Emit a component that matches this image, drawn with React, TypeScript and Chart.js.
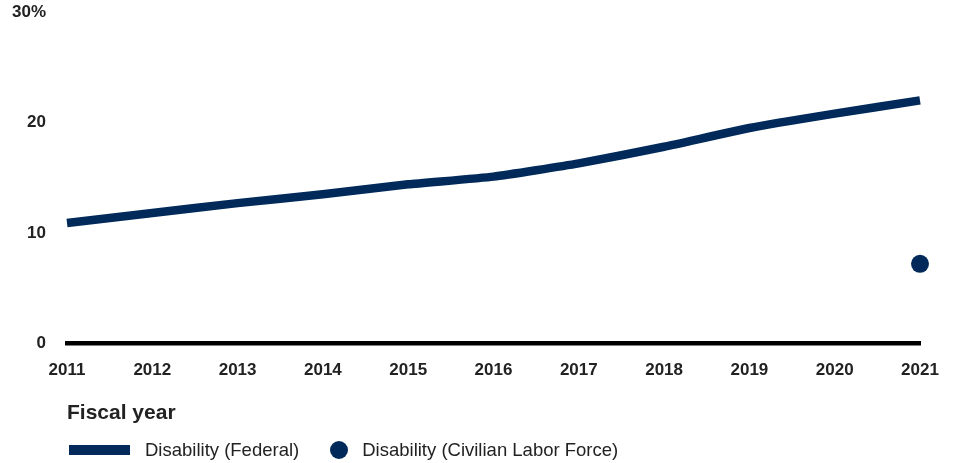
import React, { useEffect, useRef } from "react";
import { Chart, registerables } from "chart.js";

Chart.register(...registerables);

const years = ["2011", "2012", "2013", "2014", "2015", "2016", "2017", "2018", "2019", "2020", "2021"];
const federal = [10.9, 11.8, 12.7, 13.5, 14.4, 15.1, 16.3, 17.8, 19.5, 20.8, 22.0];
const civilian = [null, null, null, null, null, null, null, null, null, null, 7.2];
const yTicks = [0, 10, 20, 30];

const NAVY = "#012a5a";
const TEXT = "#222222";
const FONT = "'Liberation Sans', Arial, sans-serif";

export default function App() {
  const ref = useRef<HTMLCanvasElement | null>(null);

  useEffect(() => {
    if (!ref.current) return;
    const chart = new Chart(ref.current, {
      type: "line",
      data: {
        labels: years,
        datasets: [
          {
            label: "Disability (Federal)",
            data: federal,
            borderColor: NAVY,
            backgroundColor: NAVY,
            borderWidth: 8.5,
            pointRadius: 0,
            tension: 0.15,
            fill: false,
          },
          {
            label: "Disability (Civilian Labor Force)",
            data: civilian as any,
            borderColor: NAVY,
            backgroundColor: NAVY,
            showLine: false,
            pointRadius: 9,
            pointBorderWidth: 0,
          },
        ],
      },
      options: {
        animation: false,
        responsive: false,
        maintainAspectRatio: false,
        layout: { padding: { left: 0, right: 34, top: 12, bottom: 37 } },
        plugins: { legend: { display: false }, tooltip: { enabled: false } },
        scales: {
          x: {
            offset: false,
            afterFit: (s: any) => {
              s.paddingLeft = 0;
              s.paddingRight = 0;
            },
            grid: { display: false, drawTicks: false },
            border: { display: true, color: "#000", width: 4.5 },
            ticks: {
              color: TEXT,
              font: { family: FONT, size: 17, weight: "bold" },
              maxRotation: 0,
              padding: 17,
            },
            title: {
              display: true,
              text: "Fiscal year",
              align: "start",
              color: TEXT,
              font: { family: FONT, size: 21, weight: "bold" },
              padding: { top: 3, bottom: 0 },
            },
          },
          y: {
            min: 0,
            max: 30,
            afterBuildTicks: (axis: any) => {
              axis.ticks = yTicks.map((v) => ({ value: v }));
            },
            afterFit: (s: any) => {
              s.width = 67;
              s.paddingTop = 0;
              s.paddingBottom = 0;
            },
            grid: { display: false, drawTicks: false },
            border: { display: false },
            ticks: {
              color: TEXT,
              font: { family: FONT, size: 17, weight: "bold" },
              padding: 21,
              callback: (v: any) => (Number(v) === 30 ? "30%" : String(v)),
            },
          },
        },
      },
    });
    return () => chart.destroy();
  }, []);

  return (
    <div style={{ position: "absolute", left: 0, top: 0, width: 954, height: 463, background: "#fff" }}>
      <canvas ref={ref} width={954} height={463} style={{ display: "block" }} />
      <div
        style={{
          position: "absolute",
          left: 69,
          top: 439,
          height: 22,
          display: "flex",
          alignItems: "center",
          fontFamily: FONT,
          fontSize: 18.5,
          lineHeight: "22px",
          color: TEXT,
          whiteSpace: "nowrap",
        }}
      >
        <span style={{ display: "inline-block", width: 61, height: 10, background: NAVY, marginRight: 15 }} />
        <span>Disability (Federal)</span>
        <span
          style={{
            display: "inline-block",
            width: 18,
            height: 18,
            borderRadius: "50%",
            background: NAVY,
            marginLeft: 31,
            marginRight: 14,
          }}
        />
        <span>Disability (Civilian Labor Force)</span>
      </div>
    </div>
  );
}
